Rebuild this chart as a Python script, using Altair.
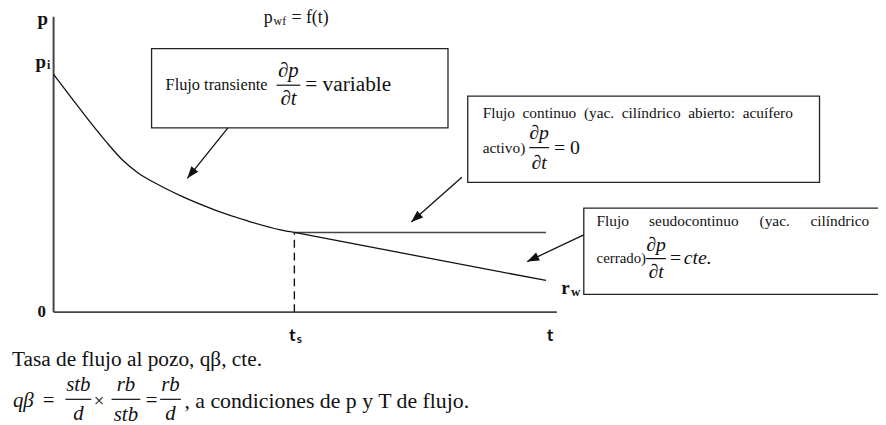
import math
import altair as alt
import pandas as pd

# ---------------- data (t in units of t_s, p in units of p_i) ----------------
curve_t = [0.0, 0.0782, 0.1481, 0.2181, 0.2840, 0.3539, 0.4239, 0.5309, 0.6708, 0.8066, 0.9424, 1.0]
curve_p = [1.0, 0.8958, 0.8042, 0.7167, 0.6417, 0.5833, 0.5417, 0.4875, 0.4292, 0.3833, 0.3458, 0.335]

T_S = 1.0          # start of (pseudo)steady state
P_S = 0.335        # pressure at t_s
T_END = 2.045      # end of the drawn lines
P_PSS_END = 0.133  # pseudo-steady pressure at T_END
AXIS_T_END = 2.09
AXIS_P_TOP = 1.242

# annotation boxes
box_t1 = [0.407, 1.720, 2.202]
box_t2 = [1.638, 3.181, 3.700]
box_p1 = [1.108, 0.908, 0.4375]
box_p2 = [0.775, 0.546, 0.075]

# arrows (start -> tip)
arrow_t0 = [0.724, 1.6955, 2.2016]
arrow_p0 = [0.775, 0.5667, 0.325]
arrow_t1 = [0.5556, 1.4856, 1.9671]
arrow_p1 = [0.5625, 0.3792, 0.2125]

# ---------------- frame ----------------
W, H = 878, 417
PX_T, PX_P = 243.0, 240.0
T0_PX, P0_PX = 46.0, 305.0
XS = alt.Scale(domain=[-T0_PX / PX_T, (W - T0_PX) / PX_T], nice=False, zero=False)
YS = alt.Scale(domain=[-(H - P0_PX) / PX_P, P0_PX / PX_P], nice=False, zero=False)

SERIF = "Liberation Serif"
SANS = "Lato"
INK = "#111111"


def X(f="t"):
    return alt.X(f"{f}:Q", scale=XS, axis=None)


def Y(f="p"):
    return alt.Y(f"{f}:Q", scale=YS, axis=None)


def rules(t, p, t2, p2, **kw):
    df = pd.DataFrame({"t": t, "p": p, "t2": t2, "p2": p2})
    return alt.Chart(df).mark_rule(**kw).encode(
        x=X(), y=Y(), x2=alt.X2("t2:Q"), y2=alt.Y2("p2:Q"))


def texts(items, **kw):
    df = pd.DataFrame(items, columns=["text", "t", "p"])
    return alt.Chart(df).mark_text(color=INK, **kw).encode(
        x=X(), y=Y(), text="text:N")


layers = []

# axes
layers.append(rules([0, 0], [0, 0], [0, AXIS_T_END], [AXIS_P_TOP, 0],
                    color="#444444", strokeWidth=2))
# dashed t_s line
layers.append(rules([T_S], [0], [T_S], [P_S], color=INK, strokeWidth=1.4,
                    strokeDash=[8, 5]))
# transient curve
curve_df = pd.DataFrame({"t": curve_t, "p": curve_p})
layers.append(alt.Chart(curve_df).mark_line(interpolate="monotone", color=INK,
                                            strokeWidth=1.3).encode(x=X(), y=Y()))
# steady (horizontal) and pseudo-steady lines
layers.append(rules([T_S], [P_S], [T_END], [P_S], color="#444444", strokeWidth=1.6))
layers.append(rules([T_S], [P_S], [T_END], [P_PSS_END], color=INK, strokeWidth=1.3))

# boxes
box_df = pd.DataFrame({"t": box_t1, "t2": box_t2, "p": box_p1, "p2": box_p2})
layers.append(alt.Chart(box_df).mark_rect(fill="white", stroke="#222222",
                                          strokeWidth=1.3).encode(
    x=X(), x2=alt.X2("t2:Q"), y=Y(), y2=alt.Y2("p2:Q")))

# arrows
angles = []
for a, b, c, d in zip(arrow_t0, arrow_p0, arrow_t1, arrow_p1):
    dx = (c - a) * PX_T
    dy = -(d - b) * PX_P
    angles.append(math.degrees(math.atan2(dx, -dy)) % 360)
layers.append(rules(arrow_t0, arrow_p0, arrow_t1, arrow_p1, color=INK, strokeWidth=1.3))
head_df = pd.DataFrame({"t": arrow_t1, "p": arrow_p1, "ang": angles})
layers.append(alt.Chart(head_df).mark_point(
    shape="M0,0L-0.75,2L0.75,2Z", filled=True, size=144, color=INK, opacity=1
).encode(x=X(), y=Y(), angle=alt.Angle("ang:Q", scale=None)))

# axis labels (bold serif)
layers.append(texts([("p", -0.0453, 1.2083), ("p", -0.0535, 1.025)],
                    font=SERIF, fontWeight="bold", fontSize=19, align="center",
                    baseline="alphabetic"))
layers.append(texts([("i", -0.0206, 1.0208)], font=SERIF, fontWeight="bold",
                    fontSize=12, align="center", baseline="alphabetic"))
layers.append(texts([("0", -0.0494, -0.0208)], font=SERIF, fontWeight="bold",
                    fontSize=17, align="center", baseline="alphabetic"))
layers.append(texts([("r", 2.1255, 0.075)], font=SERIF, fontWeight="bold",
                    fontSize=19, align="center", baseline="alphabetic"))
layers.append(texts([("w", 2.1687, 0.0667)], font=SERIF, fontWeight="bold",
                    fontSize=13, align="center", baseline="alphabetic"))
# t axis labels (bold sans)
layers.append(texts([("t", 0.9918, -0.1208), ("t", 2.0617, -0.1208)], font=SANS,
                    fontWeight="bold", fontSize=18, align="center", baseline="alphabetic"))
layers.append(texts([("s", 1.0206, -0.1292)], font=SANS, fontWeight="bold",
                    fontSize=12, align="center", baseline="alphabetic"))

# title p_wf = f(t)
layers.append(texts([("p", 0.8724, 1.2167), ("= f(t)", 0.9877, 1.2167)], font=SERIF,
                    fontSize=18, align="left", baseline="alphabetic"))
layers.append(texts([("wf", 0.9136, 1.2083)], font=SERIF, fontSize=12,
                    align="left", baseline="alphabetic"))

# box texts
layers.append(texts([("Flujo transiente", 0.465, 0.9542)],
                    font=SERIF, fontSize=16.5, align="left", baseline="middle"))
box2_words = ["Flujo", "continuo", "(yac.", "cilíndrico", "abierto:", "acuífero"]
box2_t = [1.7819, 1.9477, 2.2025, 2.3597, 2.6354, 2.8617]
layers.append(texts([(w, t, 0.8375) for w, t in zip(box2_words, box2_t)] +
                    [("activo)", 1.7819, 0.6917)],
                    font=SERIF, fontSize=15.5, align="left", baseline="middle"))
box3_words = ["Flujo", "seudocontinuo", "(yac.", "cilíndrico"]
box3_t = [2.2551, 2.4733, 2.9321, 3.1432]
layers.append(texts([(w, t, 0.3833) for w, t in zip(box3_words, box3_t)],
                    font=SERIF, fontSize=15.5, align="left", baseline="middle"))
layers.append(texts([("cerrado)", 2.2551, 0.2292)],
                    font=SERIF, fontSize=15, align="left", baseline="middle"))

# larger regular texts
layers.append(texts([("= variable", 1.0453, 0.9542)], font=SERIF, fontSize=21.5,
                    align="left", baseline="middle"))
layers.append(texts([("= 0", 2.0782, 0.6917), ("=", 2.5597, 0.2292)], font=SERIF,
                    fontSize=20, align="left", baseline="middle"))
layers.append(texts([("Tasa de flujo al pozo, qβ, cte.", -0.1728, -0.2)], font=SERIF,
                    fontSize=21.5, align="left", baseline="middle"))
layers.append(texts([("=", -0.0453, -0.375), ("=", 0.3827, -0.375)], font=SERIF,
                    fontSize=21, align="left", baseline="middle"))
layers.append(texts([(", a condiciones de p y T de flujo.", 0.5432, -0.375)], font=SERIF,
                    fontSize=22, align="left", baseline="middle"))
layers.append(texts([("×", 0.1893, -0.375)], font=SERIF, fontSize=19,
                    align="center", baseline="middle"))
layers.append(texts([("cte.", 2.6173, 0.2292)], font=SERIF, fontStyle="italic",
                    fontSize=20, align="left", baseline="middle"))
layers.append(texts([("qβ", -0.1687, -0.375)], font=SERIF, fontStyle="italic",
                    fontSize=21, align="left", baseline="middle"))

# fractions
frac_num = ["∂p", "∂p", "∂p", "stb", "rb", "rb"]
frac_den = ["∂t", "∂t", "∂t", "d", "stb", "d"]
frac_t = [0.9753, 2.0165, 2.5021, 0.1029, 0.3004, 0.4856]
frac_half = [0.0494, 0.0412, 0.0412, 0.0535, 0.0597, 0.0432]
frac_pn = [1.0125, 0.7542, 0.2833, -0.3083, -0.3083, -0.3083]
frac_pb = [0.9542, 0.6917, 0.225, -0.3667, -0.3667, -0.3667]
frac_pd = [0.8958, 0.625, 0.1667, -0.4292, -0.4333, -0.4292]

layers.append(texts(list(zip(frac_num[:1], frac_t[:1], frac_pn[:1])) +
                    list(zip(frac_den[:1], frac_t[:1], frac_pd[:1])),
                    font=SERIF, fontStyle="italic", fontSize=21, align="center",
                    baseline="middle"))
layers.append(texts(list(zip(frac_num[1:3], frac_t[1:3], frac_pn[1:3])) +
                    list(zip(frac_den[1:3], frac_t[1:3], frac_pd[1:3])),
                    font=SERIF, fontStyle="italic", fontSize=20, align="center",
                    baseline="middle"))
layers.append(texts(list(zip(frac_num[3:], frac_t[3:], frac_pn[3:])) +
                    list(zip(frac_den[3:], frac_t[3:], frac_pd[3:])),
                    font=SERIF, fontStyle="italic", fontSize=21, align="center",
                    baseline="middle"))
layers.append(rules([a - h for a, h in zip(frac_t, frac_half)], frac_pb,
                    [a + h for a, h in zip(frac_t, frac_half)], frac_pb,
                    color=INK, strokeWidth=1.2))

chart = alt.layer(*layers).properties(
    width=W, height=H,
    autosize=alt.AutoSizeParams(type="none"),
    padding=0,
).configure_view(stroke=None)

chart.save("out.html", embed_options={"renderer": "svg", "actions": False})
